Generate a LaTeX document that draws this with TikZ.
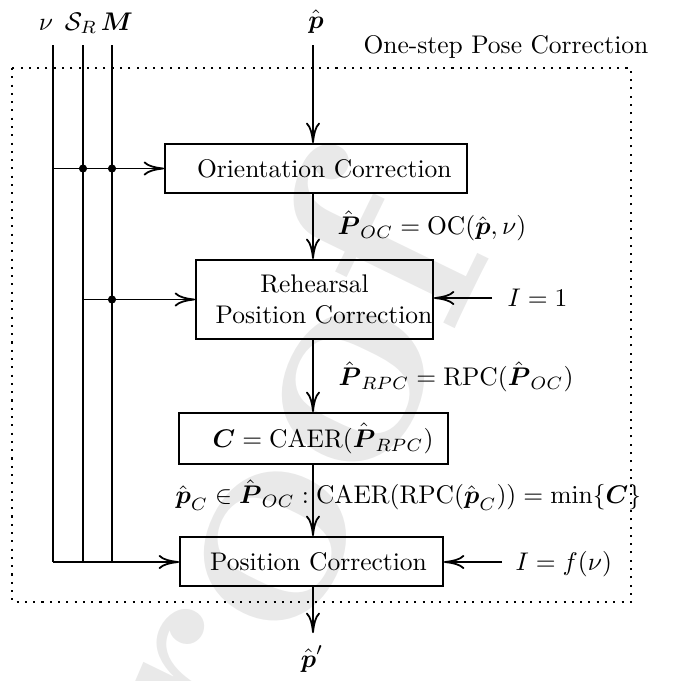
\documentclass[tikz,border=0pt]{standalone}
\usepackage{amsmath,amssymb}
\usetikzlibrary{arrows.meta}
\begin{document}
\begin{tikzpicture}[x=0.3922pt,y=-0.3922pt,
  box/.style={draw, line width=0.8pt, inner sep=0pt},
  conn/.style={line width=0.7pt},
  arr/.style={conn, -{To[length=8pt,width=5.5pt]}},
  junc/.style={circle, fill, inner sep=0pt, minimum size=3.2pt},
  lbl/.style={inner sep=0pt, anchor=west},
  frame/.style={line width=0.8pt, dash pattern=on 0.8pt off 2.45pt},
  wmark/.style={text=gray!17, font=\fontsize{117}{117}\selectfont\bfseries, rotate=64, inner sep=0pt}]
\useasboundingbox (0,0) rectangle (673,681);
% watermark
\node[wmark] (wm) at (258,562) {proof};
% frame of the one-step pose correction
\draw[frame] (12,68) rectangle (631,602);
\node[inner sep=0pt, anchor=base west] (title) at (363,53) {One-step Pose Correction};
% inputs
\node[inner sep=0pt, anchor=base] (nu) at (46,30) {$\nu$};
\node[inner sep=0pt, anchor=base] (sr) at (81,30) {$\mathcal{S}_R$};
\node[inner sep=0pt, anchor=base] (mm) at (117,30) {$\boldsymbol{M}$};
\node[inner sep=0pt, anchor=base] (phat) at (316,28) {$\hat{\boldsymbol{p}}$};
% boxes
\node[box, minimum width=118.4pt, minimum height=19.2pt] (oc) at (316,168.5) {\hspace*{6.5pt}Orientation Correction};
\node[box, minimum width=92.9pt, minimum height=31pt, align=center] (rpc) at (314.5,299.5) {Rehearsal\\\hspace*{7.5pt}Position Correction};
\node[box, minimum width=105.5pt, minimum height=20pt] (caer) at (313.5,438.5) {\hspace*{7.5pt}$\boldsymbol{C} = \mathrm{CAER}(\hat{\boldsymbol{P}}_{RPC})$};
\node[box, minimum width=103.1pt, minimum height=19.2pt] (pc) at (311.5,561.5) {\hspace*{5.5pt}Position Correction};
% labels
\node[lbl] (l1) at (337,226) {$\hat{\boldsymbol{P}}_{OC} = \mathrm{OC}(\hat{\boldsymbol{p}},\nu)$};
\node[lbl] (l2) at (338,377) {$\hat{\boldsymbol{P}}_{RPC} = \mathrm{RPC}(\hat{\boldsymbol{P}}_{OC})$};
\node[lbl] (l3) at (175,495) {$\hat{\boldsymbol{p}}_C \in \hat{\boldsymbol{P}}_{OC} : \mathrm{CAER}(\mathrm{RPC}(\hat{\boldsymbol{p}}_C)) = \min\{\boldsymbol{C}\}$};
\node[lbl] (i1) at (507,298) {$I = 1$};
\node[lbl] (i2) at (515,564) {$I = f(\nu)$};
\node[inner sep=0pt, anchor=base] (pout) at (312,667) {$\hat{\boldsymbol{p}}'$};
% coordinates
\coordinate (nu0) at (53,45);
\coordinate (sr0) at (83,45);
\coordinate (m0) at (112,45);
\coordinate (nu1) at (53,562);
\coordinate (sr1) at (83,562);
\coordinate (m1) at (112,562);
\coordinate (pin) at (313,45);
\coordinate (pend) at (313,633);
\coordinate (i1s) at (492,298);
\coordinate (i2s) at (502,562);
% left input lines
\draw[conn] (nu0) -- (nu1);
\draw[conn] (sr0) -- (sr1);
\draw[conn] (m0) -- (m1);
\draw[arr] (nu0 |- oc.west) -- (oc.west);
\draw[arr] (sr0 |- rpc.west) -- (rpc.west);
\draw[arr] (nu1) -- (nu1 -| pc.west);
\node[junc] at (sr0 |- oc.west) {};
\node[junc] at (m0 |- oc.west) {};
\node[junc] at (m0 |- rpc.west) {};
% main flow
\draw[arr] (pin) -- (pin |- oc.north);
\draw[arr] (pin |- oc.south) -- (pin |- rpc.north);
\draw[arr] (pin |- rpc.south) -- (pin |- caer.north);
\draw[arr] (pin |- caer.south) -- (pin |- pc.north);
\draw[arr] (pin |- pc.south) -- (pend);
% right inputs
\draw[arr] (i1s) -- (i1s -| rpc.east);
\draw[arr] (i2s) -- (i2s -| pc.east);
\end{tikzpicture}
\end{document}
